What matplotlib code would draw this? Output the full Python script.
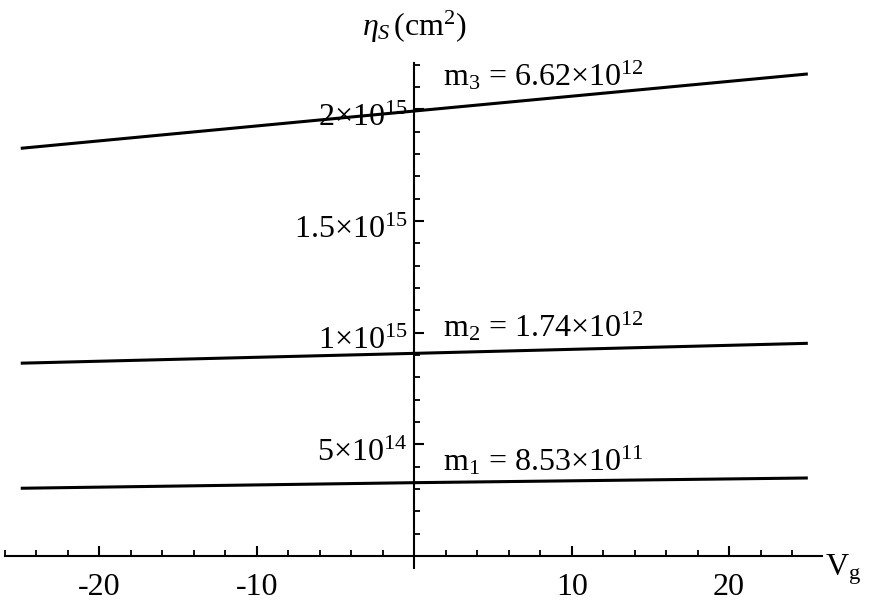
import matplotlib
matplotlib.use('Agg')
from matplotlib import pyplot as plt
from matplotlib.ticker import MultipleLocator, FixedLocator
from matplotlib.transforms import ScaledTranslation

# serif look like the original (Mathematica / Times)
plt.rcParams['font.family'] = ['Liberation Serif', 'DejaVu Serif']
plt.rcParams['mathtext.fontset'] = 'custom'
plt.rcParams['mathtext.rm'] = 'Liberation Serif'
plt.rcParams['mathtext.it'] = 'Liberation Serif:italic'

# data (eta_s vs V_g, straight lines)
vg = [-25, 0, 25]
eta_m1 = [3.03e14, 3.28e14, 3.49e14]
eta_m2 = [8.63e14, 9.07e14, 9.52e14]
eta_m3 = [1.825e15, 1.992e15, 2.158e15]

labels = [r'm$_1$ = 8.53$\times$10$^{11}$',
          r'm$_2$ = 1.74$\times$10$^{12}$',
          r'm$_3$ = 6.62$\times$10$^{12}$']
label_y = [4.25e14, 1.025e15, 2.15e15]

xticks = [-20, -10, 10, 20]
yticks = [5e14, 1e15, 1.5e15, 2e15]
ytick_labels = [r'5$\times$10$^{14}$', r'1$\times$10$^{15}$',
                r'1.5$\times$10$^{15}$', r'2$\times$10$^{15}$']

fs = 23

fig = plt.figure(figsize=(8.88, 6.03), dpi=100)
ax = fig.add_axes([5 / 888, 1 - 568 / 603, 817 / 888, 505 / 603])

for ys in (eta_m1, eta_m2, eta_m3):
    ax.plot(vg, ys, color='black', lw=2.2, solid_capstyle='butt')

ax.set_xlim(-26, 25.9)
ax.set_ylim(-5.4e13, 2.207e15)

# axes through the origin
ax.spines['left'].set_position(('data', 0))
ax.spines['bottom'].set_position(('data', 0))
ax.spines['top'].set_visible(False)
ax.spines['right'].set_visible(False)
ax.spines['left'].set_linewidth(1.5)
ax.spines['bottom'].set_linewidth(1.5)

ax.xaxis.set_major_locator(FixedLocator(xticks))
ax.xaxis.set_minor_locator(MultipleLocator(2))
ax.yaxis.set_major_locator(FixedLocator(yticks))
ax.yaxis.set_minor_locator(MultipleLocator(1e14))
ax.set_xticklabels([str(t) for t in xticks])
ax.set_yticklabels(ytick_labels)

ax.tick_params(which='major', direction='in', length=7, width=1.5, labelsize=fs)
ax.tick_params(which='minor', direction='in', length=4, width=1.3)
ax.tick_params(axis='x', pad=12)
ax.tick_params(axis='y', pad=5)

# nudge y tick labels down a little, as in the original
shift = ScaledTranslation(0, -4 / 72, fig.dpi_scale_trans)
for t in ax.get_yticklabels():
    t.set_transform(t.get_transform() + shift)

for lab, yl in zip(labels, label_y):
    ax.text(1.84, yl, lab, fontsize=fs, ha='left', va='center')

ax.text(0, 2.37e15, r'$\eta_S\,$(cm$^2$)', fontsize=fs, ha='center', va='center', clip_on=False)
ax.text(26.1, -0.6e14, r'V$_\mathrm{g}$', fontsize=fs, ha='left', va='center', clip_on=False)

plt.savefig('out.png', dpi=100)
